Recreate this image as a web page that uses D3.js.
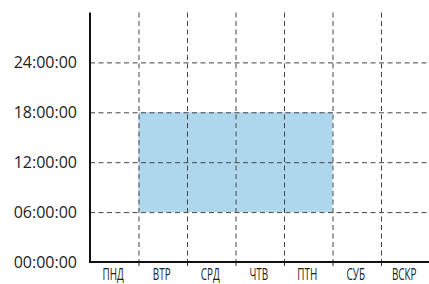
<!DOCTYPE html>
<meta charset="utf-8">
<style>
body { margin: 0; background: #fff; }
.grid line { stroke: #444; stroke-dasharray: 5,3.5; stroke-width: 1; }
.ylab { font-family: "Open Sans", sans-serif; font-size: 16px; fill: #222; }
.xlab { font-family: "Open Sans", sans-serif; font-size: 15.5px; fill: #222; }
</style>
<body>
<svg width="429" height="284"></svg>
<script src="https://d3js.org/d3.v7.min.js"></script>
<script>

var days = ["ПНД", "ВТР", "СРД", "ЧТВ", "ПТН", "СУБ", "ВСКР"];
// working hours per day (null = day off)
var startHour = [null, 6, 6, 6, 6, null, null];
var endHour = [null, 18, 18, 18, 18, null, null];
var hourTicks = [0, 6, 12, 18, 24];
var tickLabels = ["00:00:00", "06:00:00", "12:00:00", "18:00:00", "24:00:00"];

var svg = d3.select("svg"),
    plotLeft = 90, plotRight = 429.5, plotTop = 12.5, plotBottom = 262;

var x = d3.scaleBand().domain(days).range([plotLeft, plotRight]).padding(0),
    y = d3.scaleLinear().domain([0, 30]).range([plotBottom, plotTop]);

var data = days.map(function(d, i) { return {day: d, s: startHour[i], e: endHour[i]}; })
  .filter(function(d) { return d.s != null; });

svg.selectAll(".bar")
  .data(data)
  .enter().append("rect")
    .attr("class", "bar")
    .attr("x", function(d) { return x(d.day); })
    .attr("width", x.bandwidth())
    .attr("y", function(d) { return y(d.e); })
    .attr("height", function(d) { return y(d.s) - y(d.e); })
    .attr("fill", "#aed6ed");

var grid = svg.append("g").attr("class", "grid");

grid.selectAll(".h")
  .data(hourTicks.slice(1))
  .enter().append("line")
    .attr("x1", plotLeft).attr("x2", 429)
    .attr("y1", function(d) { return y(d) + 0.5; })
    .attr("y2", function(d) { return y(d) + 0.5; });

grid.selectAll(".v")
  .data(days.slice(1))
  .enter().append("line")
    .attr("x1", function(d) { return x(d) + 0.5; })
    .attr("x2", function(d) { return x(d) + 0.5; })
    .attr("y1", plotTop).attr("y2", plotBottom);

// small ticks under the x axis at day boundaries
svg.selectAll(".tick")
  .data(days.slice(1))
  .enter().append("line")
    .attr("x1", function(d) { return x(d) + 0.5; })
    .attr("x2", function(d) { return x(d) + 0.5; })
    .attr("y1", plotBottom).attr("y2", plotBottom + 4)
    .attr("stroke", "#333").attr("stroke-width", 1);

// axes
svg.append("line")
    .attr("x1", plotLeft).attr("x2", plotLeft)
    .attr("y1", plotTop).attr("y2", plotBottom + 1)
    .attr("stroke", "#111").attr("stroke-width", 2);
svg.append("line")
    .attr("x1", plotLeft - 1).attr("x2", 429)
    .attr("y1", plotBottom).attr("y2", plotBottom)
    .attr("stroke", "#111").attr("stroke-width", 2);

svg.selectAll(".ylab")
  .data(hourTicks)
  .enter().append("text")
    .attr("class", "ylab")
    .attr("x", 77)
    .attr("y", function(d) { return y(d); })
    .attr("dy", "0.35em")
    .attr("text-anchor", "end")
    .text(function(d, i) { return tickLabels[i]; });

svg.selectAll(".xlab")
  .data(days)
  .enter().append("text")
    .attr("class", "xlab")
    .attr("transform", function(d) {
      return "translate(" + (x(d) + x.bandwidth() / 2 - 1) + ",280) scale(0.64,1)";
    })
    .attr("text-anchor", "middle")
    .text(function(d) { return d; });

</script>
</body>
